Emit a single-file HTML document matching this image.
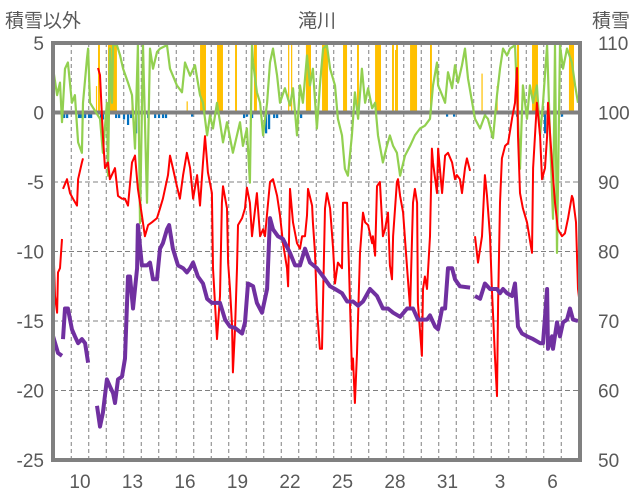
<!DOCTYPE html>
<html><head><meta charset="utf-8">
<style>
html,body{margin:0;padding:0;background:#fff;}
svg{display:block;font-family:"Liberation Sans","Noto Sans CJK JP",sans-serif;}
.tk{font-size:19px;fill:#595959;}
.ttl{font-size:19px;fill:#595959;font-family:"Liberation Sans","Noto Sans CJK JP",sans-serif;}
</style></head>
<body>
<svg id="chart" width="636" height="501" viewBox="0 0 636 501" xmlns="http://www.w3.org/2000/svg">
<defs><clipPath id="plotClip"><rect x="53" y="43" width="527" height="417"/></clipPath></defs>
<text class="ttl" x="5" y="27">積雪以外</text>
<text class="ttl" x="317" y="27" text-anchor="middle">滝川</text>
<text class="ttl" x="592" y="27">積雪</text>
<g id="grid"></g>
<g id="marks" clip-path="url(#plotClip)"></g>
<g id="axes"></g>
</svg>
<script>
// x axis: day number (days after month end continue counting, 3 => 34)
const xTickLabels = ["10","13","16","19","22","25","28","31","3","6"];
const xTickDays = [10,13,16,19,22,25,28,31,34,37];
const leftTicks = [5,0,-5,-10,-15,-20,-25];
const rightTicks = [110,100,90,80,70,60,50];

const redDays = [8.46,8.57,8.69,8.74,8.86,8.97,null,9.03,9.26,9.43,9.60,9.83,9.89,10.11,10.17,null,11.03,11.14,11.31,11.43,11.60,11.71,12.00,12.17,12.40,12.57,12.74,12.97,13.14,13.31,13.54,13.71,13.89,14.11,14.40,14.57,14.74,15.03,15.14,15.31,15.54,15.71,15.89,16.11,16.29,16.46,16.69,16.86,17.03,17.14,17.31,17.54,17.60,17.83,18.00,18.11,18.17,18.40,18.46,18.57,18.69,18.74,18.86,18.97,19.03,19.26,19.43,19.54,19.71,19.83,20.11,20.17,20.29,20.46,20.57,20.86,21.03,21.26,21.43,21.60,21.83,21.89,22.00,22.17,22.40,22.57,22.69,22.86,22.97,23.03,23.26,23.31,23.43,23.54,23.71,23.83,24.00,24.11,24.29,24.46,24.57,24.74,24.97,25.03,25.26,25.43,25.54,25.60,25.71,25.83,26.00,26.17,26.29,26.46,26.69,26.74,26.86,26.97,27.14,27.31,27.43,27.60,27.71,27.83,27.89,28.11,28.17,28.29,28.46,28.69,28.86,29.03,29.14,29.26,29.31,29.54,29.60,29.71,29.83,30.00,30.11,30.17,30.40,30.46,30.69,30.86,31.03,31.26,31.43,31.54,31.71,31.83,32.00,32.11,32.29,null,32.57,32.74,32.97,33.14,33.26,33.43,33.54,33.71,33.83,33.89,34.00,34.11,34.29,34.46,34.69,34.86,34.97,35.03,35.14,35.31,35.54,35.83,35.89,36.11,36.29,36.40,36.57,36.69,36.74,36.97,37.14,37.31,37.54,37.71,37.89,38.11,38.17,38.34,38.46,38.57];
const redVals = [-8.9,-13.2,-14.4,-11.5,-11.2,-9.1,null,-5.5,-4.8,-5.8,-6.2,-6.7,-4.8,-3.6,-3.3,null,3.2,2.7,-1.7,-4.0,-3.6,-4.8,-4.0,-6.0,-6.2,-6.2,-6.7,-3.6,-3.1,-5.5,-7.4,-8.9,-8.1,-7.9,-7.6,-6.9,-6.2,-4.5,-3.1,-4.0,-5.3,-6.2,-4.5,-2.9,-4.0,-6.2,-4.5,-6.7,-3.6,-1.7,-4.3,-5.8,-11.2,-16.3,-13.2,-6.5,-5.3,-6.9,-10.8,-12.7,-15.4,-18.7,-15.6,-11.2,-8.1,-7.6,-6.9,-5.4,-6.5,-8.9,-5.8,-6.9,-8.9,-8.4,-8.9,-5.0,-4.8,-6.0,-7.4,-9.4,-11.2,-12.5,-5.5,-7.9,-9.4,-9.8,-8.9,-8.9,-7.4,-5.5,-6.7,-7.9,-10.1,-14.1,-17.0,-17.0,-6.9,-5.8,-6.9,-9.8,-12.3,-10.8,-11.2,-6.5,-6.5,-13.7,-18.5,-17.7,-20.9,-17.3,-10.1,-7.2,-7.9,-8.1,-9.4,-8.9,-10.3,-5.3,-5.0,-8.9,-8.4,-7.2,-11.0,-12.0,-8.9,-5.0,-4.8,-6.0,-7.2,-11.2,-14.1,-6.5,-5.5,-6.5,-13.7,-17.5,-12.7,-11.8,-12.7,-8.9,-2.6,-3.6,-5.8,-2.6,-5.8,-3.1,-2.9,-3.6,-4.8,-4.5,-4.8,-5.8,-4.0,-3.3,-4.2,null,-8.9,-10.8,-8.9,-4.5,-6.0,-8.9,-12.7,-17.5,-20.4,-13.7,-6.5,-3.3,-2.4,-2.2,-0.4,0.7,3.2,-1.7,-5.8,-6.9,-7.9,-10.1,-4.0,0.7,-1.7,-4.8,-4.0,-1.7,0.7,-3.6,-6.5,-8.4,-8.9,-8.7,-7.6,-6.0,-6.2,-7.9,-12.7,-13.9];

const purpleDays = [8.46,8.74,8.97,null,9.03,9.14,9.31,9.54,9.71,9.89,10.11,10.29,10.46,null,10.97,11.14,11.31,11.54,11.71,11.89,12.00,12.17,12.40,12.57,12.74,12.86,13.03,13.26,13.31,13.54,13.83,14.00,14.17,14.40,14.57,14.74,14.97,15.09,15.31,15.60,15.89,16.11,16.29,16.46,16.74,17.03,17.26,17.54,17.83,18.00,18.29,18.57,18.86,19.26,19.43,19.60,19.89,20.11,20.40,20.69,20.86,21.03,21.31,21.60,22.00,22.29,22.57,22.86,23.14,23.54,23.89,24.29,24.57,24.97,25.26,25.60,25.89,26.17,26.57,26.97,27.31,27.60,27.89,28.29,28.69,29.03,29.31,29.83,30.00,30.29,30.46,30.69,30.86,31.03,31.26,31.43,31.71,32.29,null,32.57,32.86,33.14,33.43,33.83,34.00,34.17,34.40,34.69,34.86,35.03,35.26,35.54,35.89,36.29,36.46,36.69,36.74,36.97,37.03,37.26,37.43,37.60,37.83,38.00,38.17,38.46];
const purpleVals = [-16.1,-17.3,-17.5,null,-16.3,-14.1,-14.1,-15.6,-16.1,-16.6,-16.3,-16.6,-18.0,null,-21.1,-22.6,-21.6,-19.2,-19.7,-20.2,-20.9,-19.2,-19.0,-17.7,-11.8,-11.8,-14.1,-11.2,-8.1,-11.0,-11.0,-10.8,-12.0,-12.0,-9.8,-9.4,-8.4,-8.1,-9.8,-11.0,-11.2,-11.5,-11.2,-10.8,-11.8,-12.3,-13.4,-13.7,-13.7,-13.7,-14.9,-15.4,-15.5,-15.9,-15.1,-12.3,-12.5,-13.7,-14.4,-12.7,-7.6,-8.4,-8.9,-9.1,-10.1,-11.0,-11.0,-9.8,-10.8,-11.2,-11.8,-12.5,-12.7,-13.0,-13.6,-13.6,-13.9,-13.6,-12.7,-13.2,-14.1,-14.1,-14.4,-14.7,-14.1,-14.1,-14.9,-14.9,-14.6,-15.4,-15.6,-14.1,-14.1,-11.2,-11.2,-12.0,-12.5,-12.6,null,-13.2,-13.4,-12.3,-12.7,-12.7,-13.0,-12.7,-13.0,-13.2,-12.3,-15.4,-15.9,-16.1,-16.3,-16.6,-16.6,-12.7,-17.0,-16.1,-17.0,-15.1,-16.1,-15.1,-14.9,-14.1,-14.9,-15.0];

const snowDepthDays = [8.46,8.69,8.86,8.97,9.14,9.31,9.54,9.71,9.89,10.11,10.17,10.40,10.46,10.57,11.14,11.31,11.54,11.60,11.71,11.83,11.89,12.11,12.29,12.46,12.74,12.97,13.14,13.31,13.43,13.60,13.83,14.00,14.17,14.40,14.57,14.97,15.14,15.54,15.83,16.00,16.29,16.57,16.86,17.03,17.26,17.43,17.60,17.83,18.00,18.17,18.40,18.74,19.14,19.31,19.54,19.71,19.83,19.89,20.11,20.29,20.46,20.69,20.86,21.03,21.26,21.43,21.71,22.00,22.17,22.40,22.57,22.74,22.97,23.14,23.31,23.54,23.71,23.89,24.11,24.29,24.57,24.74,24.97,25.14,25.31,25.54,25.71,25.89,26.11,26.29,26.46,26.69,26.86,27.03,27.31,27.54,27.71,27.89,28.11,28.29,28.57,28.86,29.14,29.43,29.71,30.00,30.17,30.40,30.46,30.69,30.86,31.03,31.26,31.43,31.60,31.83,32.00,32.17,32.57,32.86,33.14,33.31,33.60,33.83,34.00,34.17,34.40,34.57,34.86,35.14,35.31,35.54,35.71,35.89,36.11,36.29,36.46,36.69,36.86,37.03,37.14,37.26,37.43,37.60,37.83,38.11,38.29,38.46];
const snowDepthVals = [106.3,102.5,104.3,98.6,106.3,107.2,101.4,102.5,95.7,94.2,101.4,107.8,109.2,101.4,99.1,94.2,101.4,90.9,109.2,101.4,109.7,109.7,108.2,106.3,104.3,102.5,94.8,109.7,84.1,109.7,87.0,109.2,106.3,108.7,109.2,109.7,106.3,103.9,102.9,107.2,105.3,106.8,102.5,101.4,96.7,99.6,97.7,101.4,98.6,95.7,98.6,94.2,98.6,95.2,97.7,89.9,109.7,107.2,102.9,101.4,96.7,101.4,107.2,109.2,105.3,101.4,103.5,101.0,103.5,96.7,103.9,101.4,108.2,103.9,106.3,97.7,103.9,109.2,109.7,106.3,103.9,99.1,96.7,91.9,90.9,96.7,102.9,99.1,106.3,101.4,103.5,100.6,101.4,96.7,92.8,95.2,96.7,95.2,94.2,90.9,93.8,95.2,96.7,97.7,98.1,99.1,103.9,107.2,103.9,102.5,101.4,105.8,103.5,106.8,104.3,106.8,109.2,104.9,99.1,97.7,99.6,99.1,96.3,102.5,106.3,109.2,108.2,109.2,109.7,91.9,103.9,99.1,103.9,101.4,103.9,96.7,101.4,109.7,96.7,84.7,109.7,79.8,109.7,106.3,109.2,107.2,103.9,101.4];

const snowfallStart = [10.91,11.03,11.60,12.94,16.09,16.86,17.83,18.86,19.94,21.89,22.06,22.91,23.83,25.03,25.83,26.86,27.83,28.00,28.06,28.86,30.00,32.94,33.80,34.97,35.83,37.94];
const snowfallEnd   = [10.97,11.14,12.11,13.00,16.14,17.20,18.17,18.97,20.11,21.94,22.11,23.20,24.17,25.26,25.94,27.20,27.94,28.06,28.17,29.26,30.11,33.00,33.86,35.09,36.17,38.23];
const snowfallVals  = [1.9,8,8,0.8,0.8,8,8,8,8,8,8,8,8,8,8,8,8,4.5,8,8,8,2.8,1.9,8,8,8];

const precipDays = [9.09,9.26,9.94,10.06,10.29,10.51,10.63,11.20,11.31,12.06,12.23,12.51,12.74,12.91,13.20,13.89,14.29,14.51,14.74,14.91,16.40,19.37,19.54,19.83,20.63,20.80,21.09,21.26,22.63,23.54,30.97,31.37,33.14,34.97,36.57,37.54];
const precipVals = [-0.4,-0.4,-0.4,-0.4,-0.4,-0.4,-0.4,-0.9,-0.5,-0.4,-0.4,-0.5,-0.9,-0.4,-1.5,-0.4,-0.4,-0.4,-0.4,-0.4,-0.3,-0.4,-0.3,-0.4,-1.5,-1.2,-0.4,-0.4,-0.4,-0.3,-0.3,-0.3,-0.3,-0.3,-1.5,-0.3];

const NS = "http://www.w3.org/2000/svg";
const PL = 53, PR = 580, PT = 43, PB = 460;
function xScale(d){ return 80 + (d - 10) * 17.5; }
function yL(v){ return PT + (5 - v) * (PB - PT) / 30; }
function yR(v){ return PT + (110 - v) * (PB - PT) / 60; }
function mk(tag, attrs, parent){ const e=document.createElementNS(NS,tag); for(const k in attrs) e.setAttribute(k,attrs[k]); parent.appendChild(e); return e; }

const grid = document.getElementById('grid');
const marks = document.getElementById('marks');
const axes = document.getElementById('axes');

// vertical day gridlines
for (let d = 9.5; xScale(d) < PR - 2; d += 1) {
  const gl = mk('line',{x1:xScale(d),x2:xScale(d),y1:PT,y2:PB,stroke:'#808080','stroke-width':1,'stroke-dasharray':'4,3'},grid);
  
  
}
leftTicks.forEach(function(t){
  if (t !== 0 && t !== 5 && t !== -25) {
    const gl = mk('line',{x1:PL,x2:PR,y1:yL(t),y2:yL(t),stroke:'#808080','stroke-width':1,'stroke-dasharray':'5,3'},grid);
    
    
  }
});

// snowfall bars
snowfallStart.forEach(function(s,i){
  const y0 = yL(0), y1 = yL(snowfallVals[i]);
  const r = mk('rect',{x:xScale(s),width:Math.max(1.2,xScale(snowfallEnd[i])-xScale(s)),y:Math.min(y0,y1),height:Math.abs(y0-y1),fill:'#ffc000'},marks);
  
  
});
// precipitation bars
precipDays.forEach(function(d,i){
  const y0 = yL(0), y1 = yL(precipVals[i]);
  const r = mk('rect',{x:xScale(d)-1,width:2.2,y:y0,height:y1-y0,fill:'#0070c0'},marks);
  
  
});
// zero line
const zl = mk('line',{x1:PL,x2:PR,y1:yL(0),y2:yL(0),stroke:'#808080','stroke-width':4},marks);



function drawSeries(days, vals, yf, color, w, name){
  let segs = [], cur = [];
  days.forEach(function(d,i){
    if (d === null || vals[i] === null) { if (cur.length) segs.push(cur); cur = []; return; }
    cur.push(xScale(d).toFixed(1)+','+yf(vals[i]).toFixed(1));
  });
  if (cur.length) segs.push(cur);
  segs.forEach(function(s){
    const p = mk('polyline',{points:s.join(' '),fill:'none',stroke:color,'stroke-width':w,'stroke-linejoin':'round'},marks);
    
    
  });
}
drawSeries(snowDepthDays, snowDepthVals, yR, '#92d050', 2.2, 'snow-depth-line');
drawSeries(redDays, redVals, yL, '#ff0000', 2, 'max-temp-line');
drawSeries(purpleDays, purpleVals, yL, '#7030a0', 4, 'min-temp-line');

// frame
const fr = mk('rect',{x:PL,y:PT,width:PR-PL,height:PB-PT,fill:'none',stroke:'#808080','stroke-width':4},axes);



leftTicks.forEach(function(t){
  const tx = mk('text',{x:44,y:yL(t)+7,'text-anchor':'end','class':'tk'},axes);
  tx.textContent = String(t);
  
  
});
rightTicks.forEach(function(t){
  const tx = mk('text',{x:598,y:yR(t)+7,'class':'tk'},axes);
  tx.textContent = String(t);
  
  
});
xTickDays.forEach(function(d,i){
  const tx = mk('text',{x:xScale(d),y:488,'text-anchor':'middle','class':'tk'},axes);
  tx.textContent = xTickLabels[i];
  
  
});
</script>
</body></html>
